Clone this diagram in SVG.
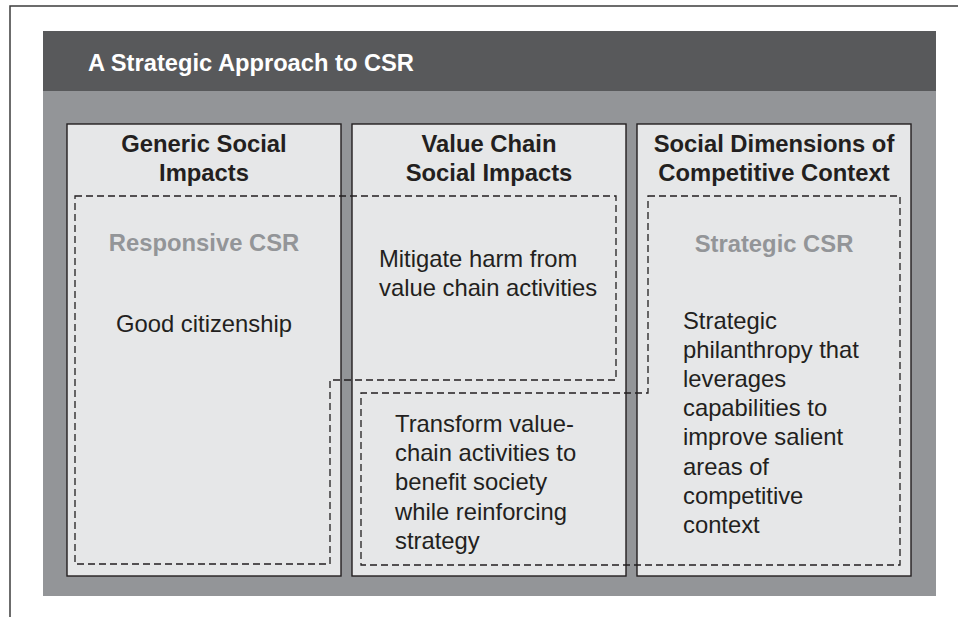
<svg xmlns="http://www.w3.org/2000/svg" width="958" height="617" viewBox="0 0 958 617">
<style>
.hd{font-family:"Liberation Sans",Arial,sans-serif;font-weight:bold;font-size:23.8px;fill:#231f20;text-anchor:middle}
.sub{font-family:"Liberation Sans",Arial,sans-serif;font-weight:bold;font-size:23.8px;fill:#939598;text-anchor:middle}
.bd{font-family:"Liberation Sans",Arial,sans-serif;font-size:23.8px;fill:#231f20}
.panel{fill:#e6e7e8;stroke:#231f20;stroke-width:1.4}
.dash{fill:none;stroke:#231f20;stroke-width:1.3;stroke-dasharray:7 4}
</style>
<rect width="958" height="617" fill="#ffffff"/>
<path d="M10,617 V6 H958" fill="none" stroke="#3d3d3d" stroke-width="1.5"/>
<g id="frame">
<rect x="43" y="31" width="893" height="60" fill="#58595b"/>
<rect x="43" y="91" width="893" height="505" fill="#939598"/>
<text x="88" y="71" font-family="'Liberation Sans',Arial,sans-serif" font-weight="bold" font-size="23.7" fill="#ffffff">A Strategic Approach to CSR</text>
</g>
<g id="panel-generic">
<rect class="panel" x="67" y="124" width="274" height="452"/>
<text class="hd" x="204" y="152">Generic Social</text>
<text class="hd" x="204" y="180.5">Impacts</text>
</g>
<g id="panel-valuechain">
<rect class="panel" x="352" y="124" width="274" height="452"/>
<text class="hd" x="489" y="152">Value Chain</text>
<text class="hd" x="489" y="180.5">Social Impacts</text>
</g>
<g id="panel-competitive">
<rect class="panel" x="637" y="124" width="274" height="452"/>
<text class="hd" x="774" y="152">Social Dimensions of</text>
<text class="hd" x="774" y="180.5">Competitive Context</text>
</g>
<g id="connectors">
<path id="responsive-region" class="dash" d="M75,196 H616 V380 H330 V564 H75 Z"/>
<path id="strategic-region" class="dash" d="M648,196 H900 V565 H361 V393 H648 Z"/>
</g>
<g id="responsive-csr">
<text class="sub" x="204" y="251">Responsive CSR</text>
<text class="bd" x="204" y="332" text-anchor="middle">Good citizenship</text>
<text class="bd" x="379" y="267">Mitigate harm from</text>
<text class="bd" x="379" y="295.5">value chain activities</text>
</g>
<g id="strategic-csr">
<text class="sub" x="774" y="252">Strategic CSR</text>
<text class="bd" x="395" y="432">Transform value-</text>
<text class="bd" x="395" y="461">chain activities to</text>
<text class="bd" x="395" y="490">benefit society</text>
<text class="bd" x="395" y="519.5">while reinforcing</text>
<text class="bd" x="395" y="548.5">strategy</text>
<text class="bd" x="683" y="328.5">Strategic</text>
<text class="bd" x="683" y="357.5">philanthropy that</text>
<text class="bd" x="683" y="386.5">leverages</text>
<text class="bd" x="683" y="415.5">capabilities to</text>
<text class="bd" x="683" y="445">improve salient</text>
<text class="bd" x="683" y="474.5">areas of</text>
<text class="bd" x="683" y="503.5">competitive</text>
<text class="bd" x="683" y="533">context</text>
</g>
</svg>
